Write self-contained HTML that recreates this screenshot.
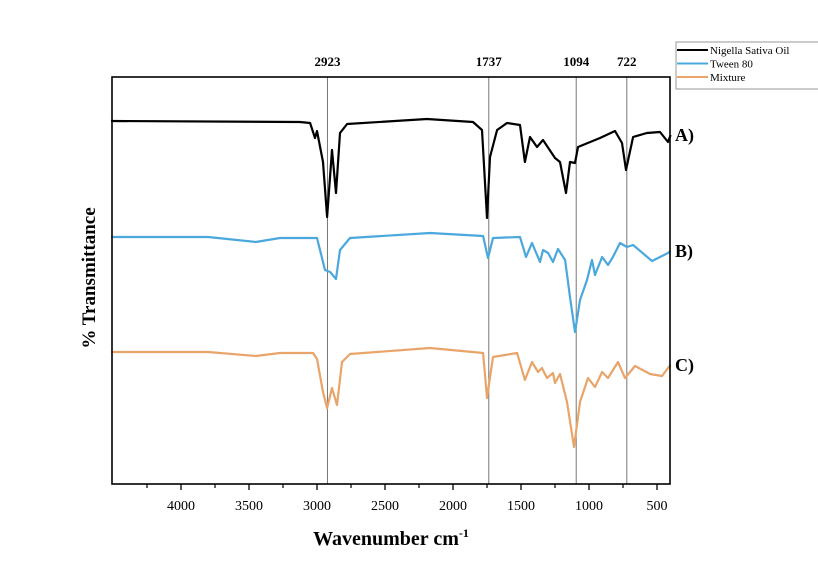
<!DOCTYPE html>
<html><head><meta charset="utf-8"><style>
body{margin:0;background:#fff;}
svg{display:block;font-family:"Liberation Serif",serif;}
</style></head><body>
<svg id="c" width="818" height="575"></svg>
<script>
const wnA=[4515,3125,3051,3015,3000,2956,2926,2890,2860,2831,2779,2191,1853,1787,1750,1728,1676,1603,1507,1471,1434,1382,1338,1250,1213,1169,1140,1103,1081,919,809,757,728,676,574,478,419,400];
const valA=[363,362,361,346,353,322,267,334,291,351,360,365,362,354,266,327,354,361,359,322,347,337,344,326,322,291,322,321,337,346,353,341,314,347,351,352,342,349];
const wnB=[4515,3800,3450,3272,3000,2941,2904,2860,2831,2757,2169,1779,1743,1706,1507,1463,1419,1360,1338,1301,1265,1228,1176,1140,1103,1066,1015,978,956,904,860,824,772,721,676,537,478,419,400];
const valB=[247,247,242,246,246,214,212,205,234,246,251,248,226,246,247,227,241,222,234,231,222,235,224,187,152,184,204,224,209,227,219,227,241,237,239,223,227,231,233];
const wnC=[4515,3800,3450,3272,3029,3000,2956,2926,2890,2853,2816,2757,2169,1779,1750,1706,1529,1471,1419,1375,1346,1309,1265,1250,1213,1162,1110,1066,1007,956,904,860,787,735,662,551,463,419,400];
const valC=[132,132,128,131,131,125,92,76,96,79,122,130,136,131,86,127,131,104,122,112,116,106,111,101,110,82,37,82,106,97,112,106,122,106,118,110,108,116,119];
const markers=[2923,1737,1094,722];
const majorTicks=[4000,3500,3000,2500,2000,1500,1000,500];
const minorTicks=[4250,3750,3250,2750,2250,1750,1250,750];
const seriesNames=["Nigella Sativa Oil","Tween 80","Mixture"];
const seriesLabels=["A)","B)","C)"];
const colors=["#000","#4aa8dc","#e9a46a"];

const L=112,R=670,T=77,B=484;
const X=v=>181+(4000-v)*0.136;
const Y=v=>B-(v/407)*(B-T);
const svg=document.getElementById('c');
const NS='http://www.w3.org/2000/svg';
function mk(t,a,txt){const e=document.createElementNS(NS,t);for(const k in a)e.setAttribute(k,a[k]);if(txt!=null)e.textContent=txt;svg.appendChild(e);return e;}

markers.forEach(m=>{
  const l=mk('line',{x1:X(m),x2:X(m),y1:T,y2:B,stroke:'#777','stroke-width':1});
  
  
  const t=mk('text',{x:X(m),y:66,'text-anchor':'middle','font-size':13,'font-weight':'bold'},String(m));
  
  
});

const sets=[[wnA,valA],[wnB,valB],[wnC,valC]];
sets.forEach((s,i)=>{
  const d=s[0].map((w,j)=>(j?'L':'M')+X(w).toFixed(1)+','+Y(s[1][j]).toFixed(1)).join('');
  const p=mk('path',{d:d,fill:'none',stroke:colors[i],'stroke-width':2.2,'stroke-linejoin':'round'});
  
  
  const yl=Y(s[1][s[1].length-1])+6;
  const t=mk('text',{x:675,y:yl,'font-size':18,'font-weight':'bold'},seriesLabels[i]);
  
  
});

const fr=mk('rect',{x:L,y:T,width:R-L,height:B-T,fill:'none',stroke:'#000','stroke-width':1.6});



majorTicks.forEach(v=>{
  const l=mk('line',{x1:X(v),x2:X(v),y1:B,y2:B+6,stroke:'#000','stroke-width':1.3});
  
  
  const t=mk('text',{x:X(v),y:510,'text-anchor':'middle','font-size':14},String(v));
  
  
});
minorTicks.forEach(v=>{
  const l=mk('line',{x1:X(v),x2:X(v),y1:B,y2:B+4,stroke:'#000','stroke-width':1.2});
  
  
});

const xt=mk('text',{x:391,y:545,'text-anchor':'middle','font-size':20,'font-weight':'bold'});
xt.innerHTML='Wavenumber cm<tspan dy="-8" font-size="12">-1</tspan>';


const yt=mk('text',{x:0,y:0,'text-anchor':'middle','font-size':19,'font-weight':'bold',transform:'translate(95,278) rotate(-90)'},'% Transmittance');



const lg=mk('rect',{x:676,y:42,width:150,height:47,fill:'#fff',stroke:'#999','stroke-width':1});


seriesNames.forEach((n,i)=>{
  const y=50+i*13.5;
  const l=mk('line',{x1:677,x2:708,y1:y,y2:y,stroke:colors[i],'stroke-width':2});
  
  
  const t=mk('text',{x:710,y:y+4,'font-size':11},n);
  
  
});
</script>
</body></html>
